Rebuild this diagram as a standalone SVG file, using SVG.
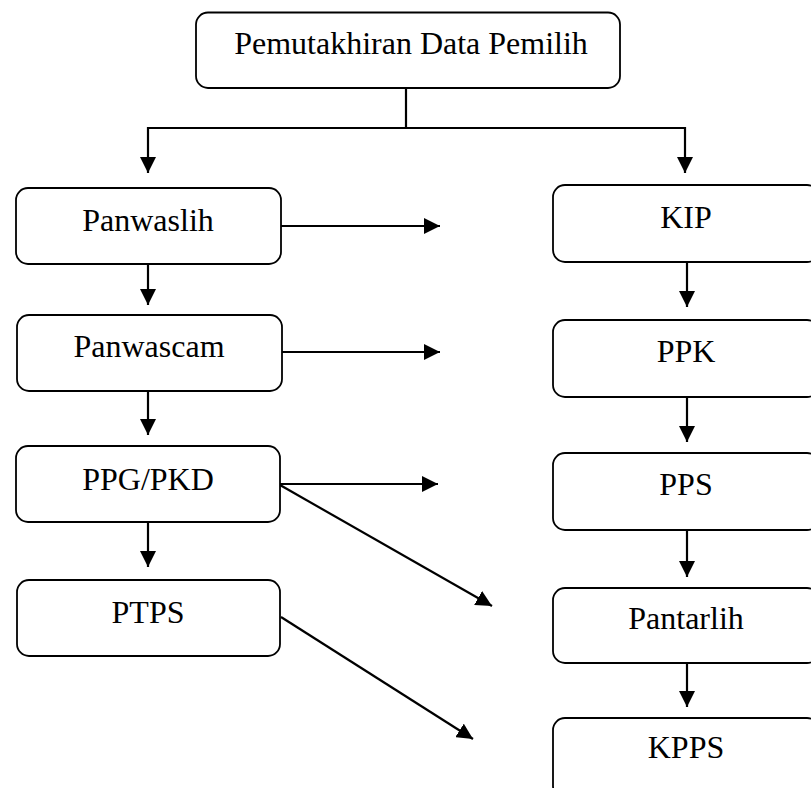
<svg xmlns="http://www.w3.org/2000/svg" width="811" height="788" viewBox="0 0 811 788">
<defs>
<marker id="ah" markerWidth="16" markerHeight="16" viewBox="0 0 16 16" refX="16" refY="8" orient="auto" markerUnits="userSpaceOnUse">
<path d="M0,0 L16,8 L0,16 Z" fill="#000"/>
</marker>
</defs>
<style>
.box{fill:#fff;stroke:#000;stroke-width:1.8}
.lbl{font-family:"Liberation Serif","Times New Roman",serif;font-size:32px;fill:#000;text-anchor:middle}
.c{stroke:#000;stroke-width:2.2;fill:none}
.a{stroke:#000;stroke-width:2.2;fill:none;marker-end:url(#ah)}
</style>
<rect width="811" height="788" fill="#fff"/>
<g id="connectors">
<path class="c" d="M406,88 V128 M148,128 H685"/>
<path class="a" d="M148,127 V173"/>
<path class="a" d="M685,127 V173"/>
<path class="a" d="M148,264 V305"/>
<path class="a" d="M148,391 V435"/>
<path class="a" d="M148,522 V567"/>
<path class="a" d="M687,262 V307"/>
<path class="a" d="M687,397 V442"/>
<path class="a" d="M687,530 V577"/>
<path class="a" d="M687,663 V707"/>
<path class="a" d="M281,226 H440"/>
<path class="a" d="M282,352 H440"/>
<path class="a" d="M280,484 H438"/>
<path class="a" d="M280,485 L492,606"/>
<path class="a" d="M281,617 L473,739"/>
</g>
<g id="node-pemutakhiran"><rect class="box" x="196" y="12.5" width="424" height="75.5" rx="12"/><text class="lbl" x="411" y="54">Pemutakhiran Data Pemilih</text></g>
<g id="node-panwaslih"><rect class="box" x="16" y="188" width="265" height="76" rx="12"/><text class="lbl" x="148" y="231">Panwaslih</text></g>
<g id="node-panwascam"><rect class="box" x="17" y="315" width="265" height="76" rx="12"/><text class="lbl" x="149" y="357">Panwascam</text></g>
<g id="node-ppgpkd"><rect class="box" x="16" y="446" width="264" height="76" rx="12"/><text class="lbl" x="148" y="490">PPG/PKD</text></g>
<g id="node-ptps"><rect class="box" x="17" y="580" width="263" height="76" rx="12"/><text class="lbl" x="148" y="623">PTPS</text></g>
<g id="node-kip"><rect class="box" x="553" y="185" width="266" height="77" rx="12"/><text class="lbl" x="686" y="228">KIP</text></g>
<g id="node-ppk"><rect class="box" x="553" y="320" width="266" height="77" rx="12"/><text class="lbl" x="686" y="362">PPK</text></g>
<g id="node-pps"><rect class="box" x="553" y="453" width="266" height="77" rx="12"/><text class="lbl" x="686" y="495">PPS</text></g>
<g id="node-pantarlih"><rect class="box" x="553" y="588" width="266" height="75" rx="12"/><text class="lbl" x="686" y="629">Pantarlih</text></g>
<g id="node-kpps"><rect class="box" x="553" y="718" width="266" height="80" rx="12"/><text class="lbl" x="686" y="758">KPPS</text></g>
</svg>
